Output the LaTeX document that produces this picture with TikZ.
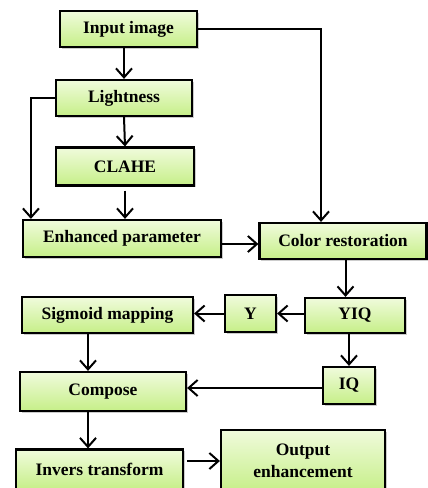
\documentclass[tikz,border=0pt]{standalone}
\usepackage{fontspec}
\setmainfont{Liberation Serif}
\usetikzlibrary{arrows.meta,shadows}
\definecolor{boxtop}{HTML}{F0FBDC}
\definecolor{boxbot}{HTML}{C6EF88}
\tikzset{
  blk/.style={draw=black,line width=2.2pt,top color=boxtop,bottom color=boxbot,
    drop shadow={shadow xshift=1.5pt,shadow yshift=-1.5pt,fill=black!40},
    font=\fontsize{17.5}{22}\selectfont\bfseries,inner sep=0pt,align=center},
  arr/.style={-{Straight Barb[length=9pt,width=16pt]},line width=2pt}
}
\begin{document}
\begin{tikzpicture}[x=1pt,y=-1pt]
\useasboundingbox (0,0) rectangle (428,488);
\pgfmathsetmacro{\h}{36}
%
\node[blk,minimum width=137pt,minimum height=\h pt](inp) at (128.5,29){Input image};
\node[blk,minimum width=136pt,minimum height=\h pt](light) at (124,98){Lightness};
\node[blk,minimum width=138pt,minimum height=38pt](clahe) at (125,166.5){CLAHE};
\node[blk,minimum width=198pt,minimum height=37pt](enh) at (122,238.5){Enhanced parameter};
\node[blk,minimum width=167pt,minimum height=\h pt](col) at (343,241){Color restoration};
\node[blk,minimum width=100pt,minimum height=35pt](yiq) at (355,315.5){YIQ};
\node[blk,minimum width=51pt,minimum height=37pt](y) at (250.5,313.5){Y};
\node[blk,minimum width=171pt,minimum height=\h pt](sig) at (107.5,315){Sigmoid mapping};
\node[blk,minimum width=52pt,minimum height=37pt](iq) at (349,385.5){IQ};
\node[blk,minimum width=166pt,minimum height=39pt](comp) at (103,391.5){Compose};
\node[blk,minimum width=167pt,minimum height=40pt](inv) at (99.5,469.5){Invers transform};
\node[blk,minimum width=164pt,minimum height=62pt](out) at (303,461){Output\\enhancement};
%
\draw[arr](light.north |- inp.south)--(light.north);
\draw[arr](inp.east)-|([xshift=-22pt]col.north);
\draw[arr](light.south)--(clahe.north);
\draw[arr](light.west)-|([xshift=9pt]enh.north west);
\draw[arr,shorten <=4pt](clahe.south)--(clahe.south |- enh.north);
\draw[arr]([yshift=-5.5pt]enh.east)--([yshift=-3pt]col.west);
\draw[arr]([xshift=2.5pt]col.south)--([xshift=2.5pt]col.south |- yiq.north);
\draw[arr](yiq.west |- y)--(y.east);
\draw[arr](y.west)--(sig.east |- y.west);
\draw[arr]([xshift=-19.5pt]sig.south)--([xshift=-19.5pt]sig.south |- comp.north);
\draw[arr](iq.north |- yiq.south)--(iq.north);
\draw[arr]([yshift=-2.5pt]iq.west)--([yshift=-2.5pt]comp.east |- iq.west);
\draw[arr]([xshift=-15pt]comp.south)--([xshift=-15pt]comp.south |- inv.north);
\draw[arr,shorten <=3pt](inv.east |- out.west)--(out.west);
\end{tikzpicture}
\end{document}
